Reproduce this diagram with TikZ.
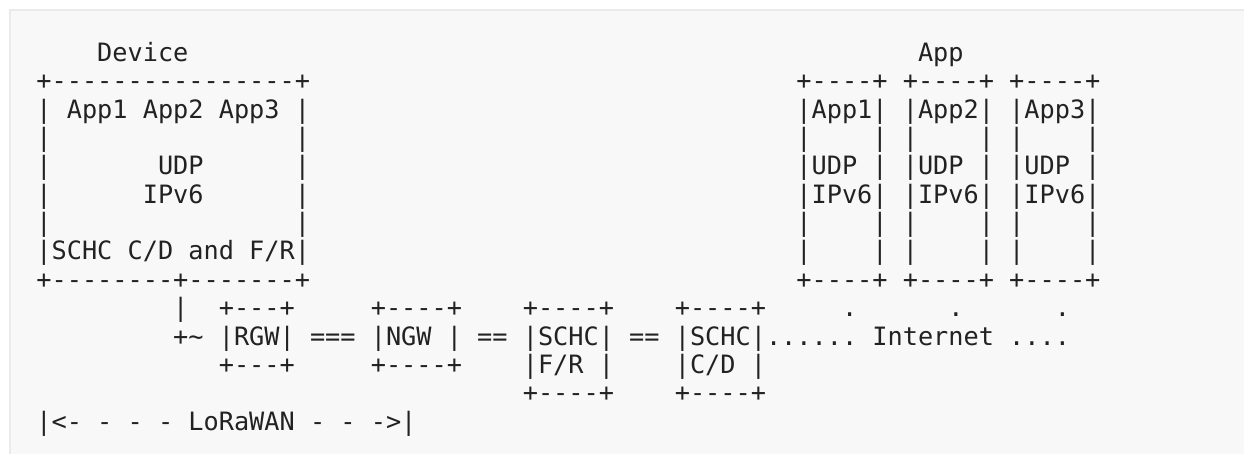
\documentclass[tikz,border=0pt]{standalone}
\usepackage{fontspec}
\setmonofont{DejaVu Sans Mono}
\definecolor{ink}{RGB}{34,34,34}
\definecolor{prebg}{RGB}{248,248,248}
\definecolor{preline}{RGB}{234,234,234}
\newcommand\tx[4]{\node[txt] (#1) at ({36.4+15.2*#3},{61.5+28.35*#2}) {#4};}
\begin{document}
\begin{tikzpicture}[x=1pt,y=-1pt,
  txt/.style={anchor=base west,inner sep=0pt,outer sep=0pt,text=ink,
    font=\ttfamily\fontsize{25.25}{28}\selectfont}]
\useasboundingbox (0,0) rectangle (1244,454);
\fill[white] (0,0) rectangle (1244,454);
\fill[prebg] (10,10) rectangle (1250,460);
\draw[preline,line width=1.5pt] (10,460) -- (10,10) -- (1250,10);
% row 0
\tx{dev}{0}{4}{Device}
\tx{app}{0}{58}{App}
% row 1
\tx{r1a}{1}{0}{+----------------+}
\tx{r1b}{1}{50}{+----+}
\tx{r1c}{1}{57}{+----+}
\tx{r1d}{1}{64}{+----+}
% row 2
\tx{r2a}{2}{0}{|}
\tx{r2b}{2}{2}{App1 App2 App3}
\tx{r2c}{2}{17}{|}
\tx{r2d}{2}{50}{|App1|}
\tx{r2e}{2}{57}{|App2|}
\tx{r2f}{2}{64}{|App3|}
% row 3
\tx{r3a}{3}{0}{|}
\tx{r3b}{3}{17}{|}
\tx{r3c}{3}{50}{|}
\tx{r3d}{3}{55}{|}
\tx{r3e}{3}{57}{|}
\tx{r3f}{3}{62}{|}
\tx{r3g}{3}{64}{|}
\tx{r3h}{3}{69}{|}
% row 4
\tx{r4a}{4}{0}{|}
\tx{r4b}{4}{8}{UDP}
\tx{r4c}{4}{17}{|}
\tx{r4d}{4}{50}{|UDP}
\tx{r4e}{4}{55}{|}
\tx{r4f}{4}{57}{|UDP}
\tx{r4g}{4}{62}{|}
\tx{r4h}{4}{64}{|UDP}
\tx{r4i}{4}{69}{|}
% row 5
\tx{r5a}{5}{0}{|}
\tx{r5b}{5}{7}{IPv6}
\tx{r5c}{5}{17}{|}
\tx{r5d}{5}{50}{|IPv6|}
\tx{r5e}{5}{57}{|IPv6|}
\tx{r5f}{5}{64}{|IPv6|}
% row 6
\tx{r6a}{6}{0}{|}
\tx{r6b}{6}{17}{|}
\tx{r6c}{6}{50}{|}
\tx{r6d}{6}{55}{|}
\tx{r6e}{6}{57}{|}
\tx{r6f}{6}{62}{|}
\tx{r6g}{6}{64}{|}
\tx{r6h}{6}{69}{|}
% row 7
\tx{r7a}{7}{0}{|SCHC C/D and F/R|}
\tx{r7c}{7}{50}{|}
\tx{r7d}{7}{55}{|}
\tx{r7e}{7}{57}{|}
\tx{r7f}{7}{62}{|}
\tx{r7g}{7}{64}{|}
\tx{r7h}{7}{69}{|}
% row 8
\tx{r8a}{8}{0}{+--------+-------+}
\tx{r8b}{8}{50}{+----+}
\tx{r8c}{8}{57}{+----+}
\tx{r8d}{8}{64}{+----+}
% row 9
\tx{r9a}{9}{9}{|}
\tx{r9b}{9}{12}{+---+}
\tx{r9c}{9}{22}{+----+}
\tx{r9d}{9}{32}{+----+}
\tx{r9e}{9}{42}{+----+}
\tx{r9f}{9}{53}{.}
\tx{r9g}{9}{60}{.}
\tx{r9h}{9}{67}{.}
% row 10
\tx{r10a}{10}{9}{+\textasciitilde}
\tx{rgw}{10}{12}{|RGW|}
\tx{r10b}{10}{18}{===}
\tx{ngw}{10}{22}{|NGW}
\tx{r10c}{10}{27}{|}
\tx{r10d}{10}{29}{==}
\tx{schcfr}{10}{32}{|SCHC|}
\tx{r10e}{10}{39}{==}
\tx{schccd}{10}{42}{|SCHC|......}
\tx{inet}{10}{55}{Internet}
\tx{r10f}{10}{64}{....}
% row 11
\tx{r11a}{11}{12}{+---+}
\tx{r11b}{11}{22}{+----+}
\tx{r11c}{11}{32}{|F/R}
\tx{r11d}{11}{37}{|}
\tx{r11e}{11}{42}{|C/D}
\tx{r11f}{11}{47}{|}
% row 12
\tx{r12a}{12}{32}{+----+}
\tx{r12b}{12}{42}{+----+}
% row 13
\tx{lora}{13}{0}{|<- - - - LoRaWAN - - ->|}
\end{tikzpicture}
\end{document}
